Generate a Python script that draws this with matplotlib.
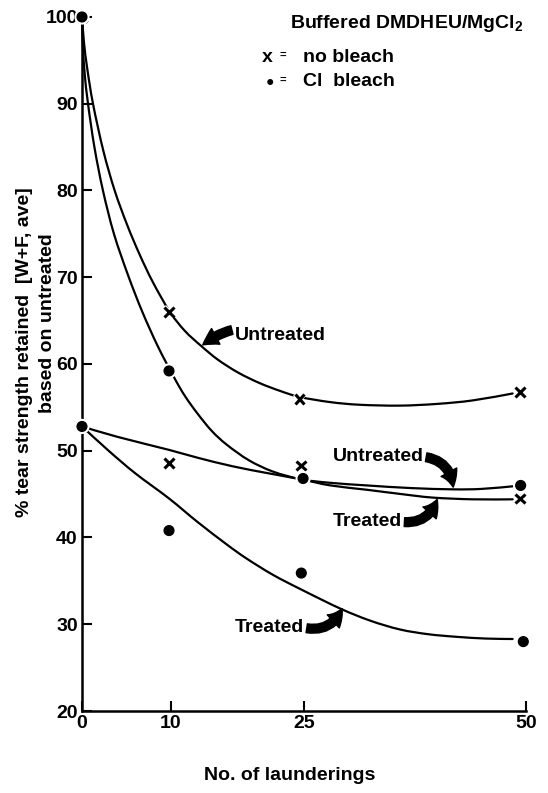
import matplotlib
matplotlib.use("Agg")
import numpy as np
import matplotlib.pyplot as plt
import matplotlib.patheffects as pe
from matplotlib.path import Path
from matplotlib.patches import PathPatch

plt.rcParams['font.family'] = ['Liberation Sans', 'DejaVu Sans']
plt.rcParams['font.weight'] = 'bold'
plt.rcParams['mathtext.fontset'] = 'custom'
plt.rcParams['mathtext.rm'] = 'Liberation Sans:bold'
plt.rcParams['mathtext.it'] = 'Liberation Sans:bold'
plt.rcParams['mathtext.bf'] = 'Liberation Sans:bold'

nb_untr_x = [0, 9.8, 24.5, 49.3]
nb_untr_y = [100, 66.0, 56.0, 56.8]
nb_trt_x = [0, 9.8, 24.7, 49.3]
nb_trt_y = [52.8, 48.6, 48.3, 44.5]
cl_untr_x = [0, 9.8, 24.9, 49.4]
cl_untr_y = [100, 59.2, 46.8, 46.0]
cl_trt_x = [0, 9.8, 24.7, 49.7]
cl_trt_y = [52.8, 40.8, 35.9, 28.0]

# hand-drawn curves, points
curve_nb_untr_x = [0, 0.23, 0.6, 1.24, 2.4, 3.68, 5.1, 6.5, 8.0, 9.9, 11.6, 13.4, 15.3, 17.6, 20, 22.3, 24.5, 28, 31.3, 35.8, 40, 44, 48.5]
curve_nb_untr_y = [100, 97, 94, 90, 84.6, 80, 76.0, 72.6, 69.4, 66.0, 63.8, 62.1, 60.5, 59.0, 57.8, 56.9, 56.2, 55.6, 55.3, 55.2, 55.4, 55.8, 56.6]
curve_cl_untr_x = [0, 0.08, 0.3, 0.68, 1.4, 2.36, 3.6, 5.2, 6.8, 8.56, 10.4, 11.6, 13, 14.6, 16.3, 18.8, 21.5, 24.7, 28, 32.1, 37, 41.8, 45, 48.5]
curve_cl_untr_y = [100, 97, 93.5, 90, 85, 80, 75, 70.2, 66.0, 62.0, 58.4, 56.3, 54.3, 52.3, 50.7, 48.9, 47.6, 46.7, 46.3, 46.0, 45.7, 45.55, 45.6, 45.9]
curve_nb_trt_x = [0, 4, 9.8, 13, 17, 21, 24.7, 28, 32.1, 36, 39.5, 44, 48.5]
curve_nb_trt_y = [52.8, 51.6, 50.1, 49.2, 48.2, 47.4, 46.7, 46.0, 45.5, 45.0, 44.6, 44.4, 44.4]
curve_cl_trt_x = [0, 3, 6, 9.8, 13, 16.3, 18.5, 21.5, 24.7, 29.1, 32.5, 35.8, 39, 42.2, 45.5, 48.5]
curve_cl_trt_y = [52.8, 50.0, 47.4, 44.5, 41.8, 39.2, 37.6, 35.7, 34.0, 31.8, 30.4, 29.4, 28.85, 28.55, 28.35, 28.3]

xticks = [0, 10, 25, 50]
yticks = [20, 30, 40, 50, 60, 70, 80, 90, 100]


def smooth_path(xs, ys):
    # bezier path through the read points (catmull-rom style handles)
    p = np.column_stack([xs, ys]).astype(float)
    p_ext = np.vstack([p[0], p, p[-1]])
    verts = [p[0]]
    codes = [Path.MOVETO]
    for i in range(len(p) - 1):
        a, b, c, d = p_ext[i], p_ext[i + 1], p_ext[i + 2], p_ext[i + 3]
        verts += [b + (c - a) / 6, c - (d - b) / 6, c]
        codes += [Path.CURVE4] * 3
    return Path(verts, codes)


fig = plt.figure(figsize=(5.48, 7.93), dpi=100)
ax = fig.add_axes([0.1496, 0.1034, 0.8102, 0.8752])

lw = 1.6
for cx, cy in [(curve_nb_untr_x, curve_nb_untr_y), (curve_cl_untr_x, curve_cl_untr_y),
               (curve_nb_trt_x, curve_nb_trt_y), (curve_cl_trt_x, curve_cl_trt_y)]:
    ax.add_patch(PathPatch(smooth_path(cx, cy), fill=False, edgecolor='black',
                           lw=lw, clip_on=False, capstyle='round'))

halo = [pe.withStroke(linewidth=4, foreground='white')]
for px, py in [(nb_untr_x, nb_untr_y), (nb_trt_x, nb_trt_y)]:
    ax.plot(px, py, ls='none', marker='x', ms=7, mew=2.2, color='black',
            clip_on=False, zorder=4, path_effects=halo)
for px, py in [(cl_untr_x, cl_untr_y), (cl_trt_x, cl_trt_y)]:
    ax.plot(px, py, ls='none', marker='o', ms=7, color='black',
            clip_on=False, zorder=4, path_effects=halo)

ax.set_xlim(0, 50)
ax.set_ylim(20, 100)
ax.set_xticks(xticks)
ax.set_yticks(yticks)
ax.spines['top'].set_visible(False)
ax.spines['right'].set_visible(False)
ax.spines['left'].set_linewidth(1.8)
ax.spines['bottom'].set_linewidth(1.8)
ax.tick_params(direction='in', length=7, width=1.5, labelsize=14, pad=3)
for lab in ax.get_xticklabels() + ax.get_yticklabels():
    lab.set_fontweight('bold')

# curve labels with fat arrows
arrow_kw = dict(arrowstyle='simple,head_length=0.7,head_width=0.8,tail_width=0.4',
                color='black', mutation_scale=16, shrinkA=0, shrinkB=0)
ax.annotate('Untreated', xy=(13.6, 62.2), xytext=(17.2, 63.3), fontsize=14,
            fontweight='bold', va='center', ha='left',
            arrowprops=dict(connectionstyle='arc3,rad=0.3', **arrow_kw))
ax.annotate('Untreated', xy=(41.8, 45.8), xytext=(28.2, 49.3), fontsize=14,
            fontweight='bold', va='center', ha='left',
            arrowprops=dict(connectionstyle='arc3,rad=-0.4', relpos=(1, 0.5), **arrow_kw))
ax.annotate('Treated', xy=(40.0, 44.4), xytext=(28.2, 41.8), fontsize=14,
            fontweight='bold', va='center', ha='left',
            arrowprops=dict(connectionstyle='arc3,rad=0.4', relpos=(1, 0.5), **arrow_kw))
ax.annotate('Treated', xy=(29.3, 31.8), xytext=(17.2, 29.6), fontsize=14,
            fontweight='bold', va='center', ha='left',
            arrowprops=dict(connectionstyle='arc3,rad=0.4', relpos=(1, 0.5), **arrow_kw))

# key
fig.text(290 / 548, 1 - 23 / 793, 'Buffered DMDHEU/MgCl$_2$', fontsize=14,
         fontweight='bold', va='center', ha='left')
fig.text(267 / 548, 1 - 57 / 793, 'x', fontsize=14, fontweight='bold', va='center', ha='center')
fig.text(283 / 548, 1 - 55 / 793, '=', fontsize=8, va='center', ha='center')
fig.text(303 / 548, 1 - 57 / 793, 'no bleach', fontsize=14, fontweight='bold', va='center', ha='left')
fig.text(270 / 548, 1 - 82 / 793, '\u25cf', fontsize=10, va='center', ha='center')
fig.text(283 / 548, 1 - 80 / 793, '=', fontsize=8, va='center', ha='center')
fig.text(303 / 548, 1 - 82 / 793, 'Cl  bleach', fontsize=14, fontweight='bold', va='center', ha='left')

# axis titles
fig.text(25 / 548, 1 - 352 / 793, '% tear strength retained  [W+F, ave]', fontsize=14,
         fontweight='bold', rotation=90, va='center', ha='center')
fig.text(48 / 548, 1 - 323 / 793, 'based on untreated', fontsize=14,
         fontweight='bold', rotation=90, va='center', ha='center')
fig.text(290 / 548, 1 - 776 / 793, 'No. of launderings', fontsize=14,
         fontweight='bold', va='center', ha='center')

fig.savefig('out.png', dpi=100)
